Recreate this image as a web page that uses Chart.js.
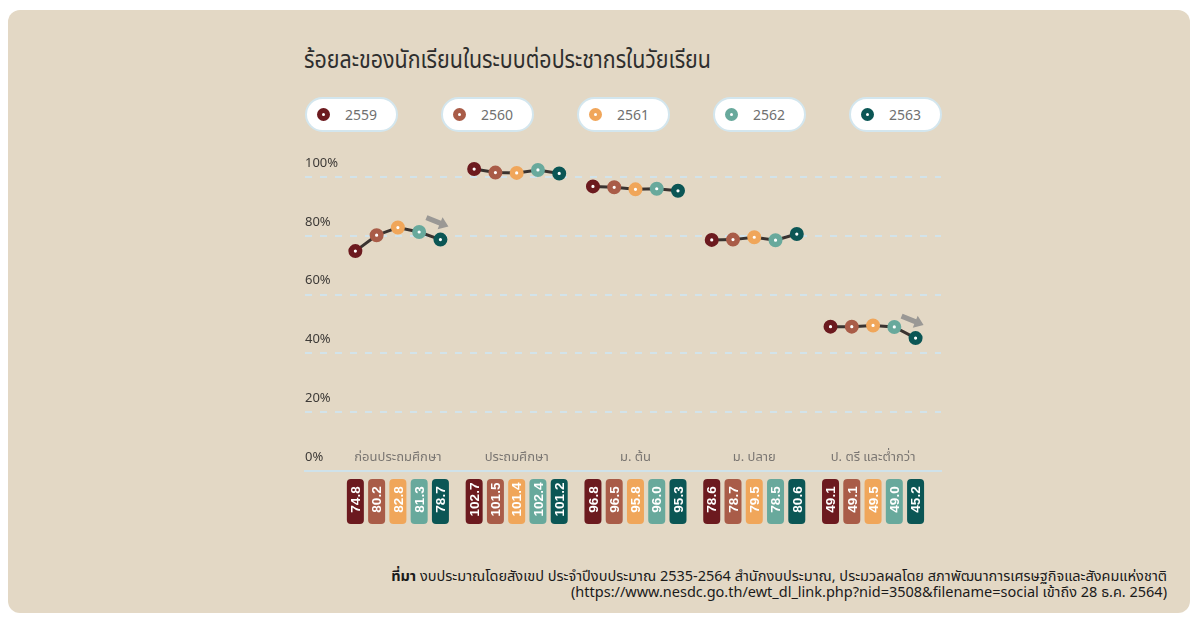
<!DOCTYPE html>
<html><head><meta charset="utf-8">
<script src="https://cdn.jsdelivr.net/npm/chart.js@4.4.1/dist/chart.umd.min.js"></script>
<style>
html,body{margin:0;padding:0;background:#fff;width:1200px;height:624px;overflow:hidden;font-family:"Noto Sans Thai","Noto Sans",sans-serif;}
#card{position:absolute;left:8px;top:10px;width:1182px;height:603px;background:#e3d8c5;border-radius:12px;}
#title{position:absolute;left:304px;top:43px;font-size:24px;color:#2e2e2e;white-space:nowrap;transform-origin:0 0;}
#legend{position:absolute;left:305px;top:97px;}
.pill{position:absolute;top:0;width:89px;height:31px;background:#fff;border:2px solid #d3e6ee;border-radius:18px;}
.pill .dot{position:absolute;left:10px;top:9px;width:3px;height:3px;border-radius:50%;background:#fff;border:5px solid #000;}
.pill .lab{position:absolute;left:38px;top:6px;font-size:14px;color:#707070;}
#source{position:absolute;right:33px;top:569px;text-align:right;font-size:14.5px;line-height:16px;color:#1a1a1a;white-space:nowrap;}
canvas{position:absolute;left:0;top:0;}
</style></head>
<body>
<div id="card"></div>
<div id="title">ร้อยละของนักเรียนในระบบต่อประชากรในวัยเรียน</div>
<div id="legend"></div>
<div id="source"><b>ที่มา</b> งบประมาณโดยสังเขป ประจำปีงบประมาณ 2535-2564 สำนักงบประมาณ, ประมวลผลโดย สภาพัฒนาการเศรษฐกิจและสังคมแห่งชาติ<br>(https://www.nesdc.go.th/ewt_dl_link.php?nid=3508&amp;filename=social เข้าถึง 28 ธ.ค. 2564)</div>
<canvas id="c" width="1200" height="624"></canvas>
<script>
const categories = ['ก่อนประถมศึกษา','ประถมศึกษา','ม. ต้น','ม. ปลาย','ป. ตรี และต่ำกว่า'];
const years = ['2559','2560','2561','2562','2563'];
const v2559 = [74.8,102.7,96.8,78.6,49.1];
const v2560 = [80.2,101.5,96.5,78.7,49.1];
const v2561 = [82.8,101.4,95.8,79.5,49.5];
const v2562 = [81.3,102.4,96.0,78.5,49.0];
const v2563 = [78.7,101.2,95.3,80.6,45.2];
const yTicks = [0,20,40,60,80,100];
const arrowGroups = [0,4];

const series = [v2559,v2560,v2561,v2562,v2563];
const yearColors = ['#6c1a1f','#a95c48','#f0a65a','#68a99c','#0b5655'];
const step = 0.179;

// fit title width to reference
const t = document.getElementById('title');
const tw = t.getBoundingClientRect().width;
t.style.transform = 'scaleX(' + (407/tw) + ')';

// legend
const lg = document.getElementById('legend');
years.forEach((y,i)=>{
  const p = document.createElement('div');
  p.className='pill'; p.style.left=(i*136)+'px';
  p.innerHTML='<div class="dot" style="border-color:'+yearColors[i]+'"></div><div class="lab">'+y+'</div>';
  lg.appendChild(p);
});

const datasets = categories.map((c,g)=>({
  label:c,
  data: years.map((y,i)=>({x: g + (i-2)*step, y: series[i][g]})),
  borderColor:'#3a3330',
  borderWidth:3,
  pointRadius:4.3,
  pointBorderWidth:5.4,
  pointBackgroundColor:'#ffffff',
  pointBorderColor:yearColors,
  tension:0
}));

const extras = {
  id:'extras',
  afterDatasetsDraw(chart){
    const ctx = chart.ctx, xs = chart.scales.x, ys = chart.scales.y;
    const y0 = ys.getPixelForValue(0);
    ctx.save();
    // category labels
    ctx.font = '13px "Noto Sans Thai","Noto Sans",sans-serif';
    ctx.fillStyle = '#7a7672';
    ctx.textAlign='center'; ctx.textBaseline='middle';
    categories.forEach((c,g)=>ctx.fillText(c, xs.getPixelForValue(g), y0-13));
    // value boxes
    categories.forEach((c,g)=>{
      years.forEach((yr,i)=>{
        const x = xs.getPixelForValue(g+(i-2)*step);
        const w=17, h=45, top=y0+8;
        ctx.fillStyle = yearColors[i];
        ctx.beginPath();
        ctx.roundRect(x-w/2, top, w, h, 4);
        ctx.fill();
        ctx.save();
        ctx.translate(x, top+h/2-2);
        ctx.rotate(-Math.PI/2);
        ctx.fillStyle='#fff';
        ctx.font='bold 13.5px "Liberation Sans",Arial,sans-serif';
        ctx.textAlign='center'; ctx.textBaseline='middle';
        ctx.fillText(series[i][g].toFixed(1), 0, 1);
        ctx.restore();
      });
    });
    // arrows
    arrowGroups.forEach(g=>{
      const last = chart.getDatasetMeta(g).data[4];
      const sx = last.x-14, sy = last.y-22, ex = last.x+8, ey = last.y-13;
      const ang = Math.atan2(ey-sy, ex-sx);
      ctx.save();
      ctx.translate(sx, sy); ctx.rotate(ang);
      const L = Math.hypot(ex-sx, ey-sy);
      ctx.fillStyle='#9a9895';
      ctx.beginPath();
      ctx.moveTo(0,-2.6); ctx.lineTo(L-9,-2.6); ctx.lineTo(L-9,-6.5); ctx.lineTo(L,0);
      ctx.lineTo(L-9,6.5); ctx.lineTo(L-9,2.6); ctx.lineTo(0,2.6); ctx.closePath();
      ctx.fill();
      ctx.restore();
    });
    ctx.restore();
  }
};

const y0px = 471, pxPerUnit = 2.94, yMax = 110;
new Chart(document.getElementById('c'), {
  type:'line',
  data:{datasets},
  options:{
    responsive:false, animation:false, events:[],
    layout:{padding:{left:305, right:1200-941, top:y0px - pxPerUnit*yMax, bottom:624-y0px}},
    plugins:{legend:{display:false}, tooltip:{enabled:false}},
    scales:{
      x:{type:'linear', min:-0.782, max:4.572,
         afterFit:s=>{s.height=0;},
         ticks:{display:false}, grid:{display:false},
         border:{display:true, color:'#cfe2ea', width:2}},
      y:{min:0, max:yMax,
         afterFit:s=>{s.width=0;},
         afterBuildTicks:s=>{s.ticks = yTicks.map(v=>({value:v}));},
         ticks:{mirror:true, padding:0, labelOffset:-14, color:'#3d3a37',
                font:{size:13, family:'"Noto Sans","DejaVu Sans",sans-serif'},
                callback:v=>v+'%'},
         grid:{drawTicks:false, lineWidth:2, color:c=>c.tick && c.tick.value===0?'rgba(0,0,0,0)':'#d2e3ea'},
         border:{display:false, dash:[7,8]}}
    }
  },
  plugins:[extras]
});
</script>
</body></html>
